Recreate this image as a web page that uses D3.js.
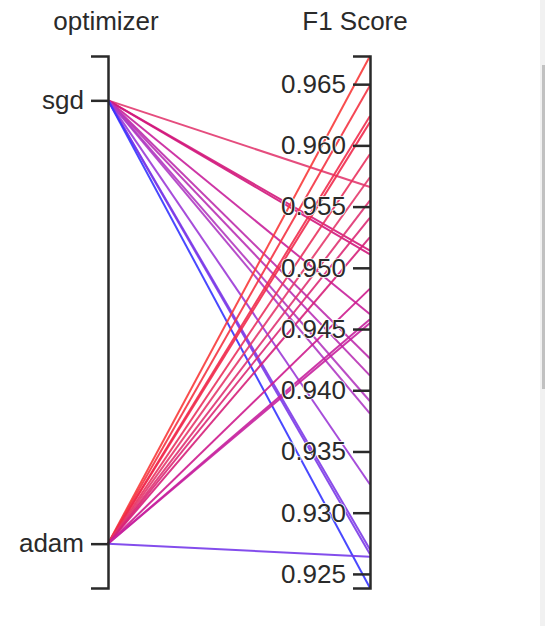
<!DOCTYPE html>
<html>
<head>
<meta charset="utf-8">
<script src="https://cdn.jsdelivr.net/npm/d3@7"></script>
<style>
  html, body { margin: 0; padding: 0; background: #fff; overflow: hidden; }
  #chart { position: absolute; left: 0; top: 0; }
  .track { position: absolute; left: 540px; top: 0; width: 5px; height: 626px; background: #f1f1f1; }
  .thumb { position: absolute; left: 542px; top: 65px; width: 3px; height: 324px; background: #c1c1c1; }
  text { font-family: "Liberation Sans", Arial, sans-serif; fill: #2a2a2a; }
</style>
</head>
<body>
<div id="chart"></div>
<div class="track"></div>
<div class="thumb"></div>
<script>
// runs, one per line in the plot
const optimizer = [
  'sgd', 'sgd', 'sgd', 'sgd', 'sgd', 'sgd', 'sgd', 'sgd', 'sgd', 'sgd', 'sgd', 'sgd',
  'adam', 'adam', 'adam', 'adam', 'adam', 'adam', 'adam', 'adam', 'adam', 'adam', 'adam', 'adam', 'adam'
];
const f1Score = [
  0.9566, 0.9514, 0.9511, 0.9462, 0.9426, 0.9412, 0.9391, 0.9381, 0.9323, 0.9270, 0.9266, 0.92385,
  0.9673, 0.9649, 0.9624, 0.9619, 0.9593, 0.9574, 0.9555, 0.9541, 0.9525, 0.9483, 0.9458, 0.9455, 0.9264
];
const optimizerLevels = ['sgd', 'adam'];
const dimensions = ['optimizer', 'F1 Score'];

const width = 545, height = 626;
const yTop = 56, yBottom = 588;

const rows = optimizer.map((o, i) => ({ optimizer: o, 'F1 Score': f1Score[i] }));

const svg = d3.select('#chart').append('svg')
    .attr('width', width)
    .attr('height', height);

const x = d3.scalePoint()
    .domain(dimensions)
    .range([108, 370]);

const y = {
    'optimizer': d3.scalePoint().domain(optimizerLevels).range([yTop, yBottom]).padding(0.1),
    'F1 Score': d3.scaleLinear().domain(d3.extent(f1Score)).range([yBottom, yTop])
};

const color = d3.scaleLinear()
    .domain([0.9238, 0.9266, 0.9323, 0.939, 0.946, 0.951, 0.9566, 0.962, 0.9673])
    .range(['#3434ff', '#7b3ae8', '#9c3ad6', '#b23ac0', '#c8209c', '#d2167c', '#e23a70', '#f02a4c', '#f83a3a'])
    .clamp(true);

const line = d3.line()
    .x(d => x(d[0]))
    .y(d => d[1]);

svg.append('g')
    .attr('class', 'lines')
    .selectAll('path')
    .data(rows)
    .enter()
    .append('path')
    .attr('d', d => line(dimensions.map(k => [k, y[k](d[k])])))
    .attr('fill', 'none')
    .attr('stroke', d => color(d['F1 Score']))
    .attr('stroke-width', 2)
    .attr('stroke-opacity', 0.9);

// title centres
const titleX = { 'optimizer': 106, 'F1 Score': 355 };

dimensions.forEach(k => {
    const axis = d3.axisLeft(y[k]).tickSize(17).tickPadding(7);
    if (k === 'F1 Score') axis.ticks(10).tickFormat(d3.format('.3f'));

    const g = svg.append('g')
        .attr('transform', 'translate(' + x(k) + ',0)')
        .call(axis);

    g.select('.domain')
        .attr('stroke', '#2a2a2a')
        .attr('stroke-width', 2.5);
    g.selectAll('.tick line')
        .attr('stroke', '#2a2a2a')
        .attr('stroke-width', 2.5);
    g.selectAll('.tick text')
        .style('font-size', '26px')
        .style('fill', '#2a2a2a')
        .style('stroke', '#fff')
        .style('stroke-width', 1.5)
        .style('paint-order', 'stroke');

    svg.append('text')
        .attr('x', titleX[k])
        .attr('y', 30)
        .attr('text-anchor', 'middle')
        .style('font-size', '26px')
        .text(k);
});
</script>
</body>
</html>
